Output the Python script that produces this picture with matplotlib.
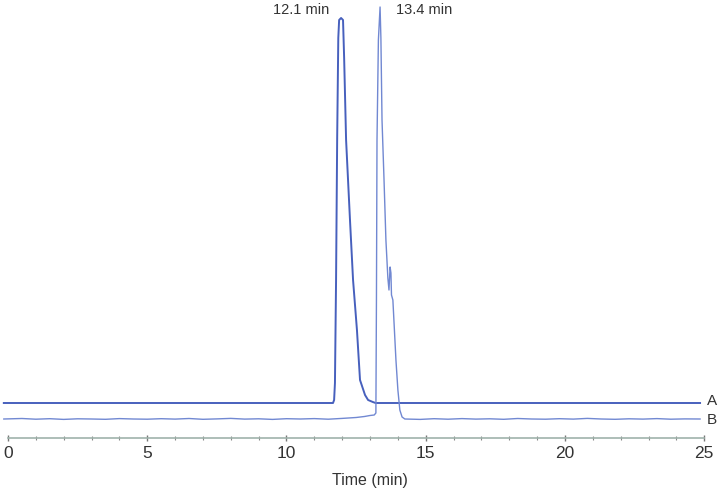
import numpy as np
import matplotlib
matplotlib.use('Agg')
import matplotlib.pyplot as plt

plt.rcParams['font.family'] = ['Liberation Sans', 'DejaVu Sans']

# === Data (signal in arbitrary units above the axis) ===
time_a = [-0.15, 11.67, 11.71, 11.74, 11.78, 11.82, 11.86, 11.89, 11.96, 12.03,
          12.07, 12.14, 12.28, 12.39, 12.53, 12.64, 12.82, 12.93, 13.10, 13.20, 24.85]
sig_a = [35, 35, 38, 55, 158, 300, 400, 418, 420, 418,
         380, 298, 218, 158, 108, 58, 43, 38, 36, 35, 35]

time_b = [-0.15, 0.5, 1.0, 1.5, 2.0, 2.5, 3.0, 3.5, 4.0, 4.5, 5.0, 5.5, 6.0, 6.5,
          7.0, 7.5, 8.0, 8.5, 9.0, 9.5, 10.0, 10.5, 11.0, 11.5, 12.0, 12.5, 12.8,
          13.0, 13.15, 13.21, 13.23, 13.25, 13.30, 13.36, 13.39, 13.43, 13.50,
          13.57, 13.64, 13.68, 13.72, 13.75, 13.77, 13.82, 13.93, 14.00, 14.07,
          14.15, 14.25, 14.8, 15.3, 15.8, 16.3, 16.8, 17.3, 17.8, 18.3, 18.8,
          19.3, 19.8, 20.3, 20.8, 21.3, 21.8, 22.3, 22.8, 23.3, 23.8, 24.3, 24.85]
sig_b = [19, 19.5, 18.8, 19.3, 18.6, 19.2, 19.0, 18.7, 19.4, 19.0, 18.8, 19.3,
         18.9, 19.5, 18.7, 19.1, 19.6, 18.9, 19.2, 18.6, 19.3, 19.0, 19.4, 18.8,
         19.6, 20.5, 21.5, 22.5, 23, 25, 138, 298, 398, 431, 400, 318, 260,
         198, 160, 148, 171, 165, 143, 138, 78, 48, 28,
         21, 19, 18.6, 19.3, 18.8, 19.4, 18.9, 19.2, 18.7, 19.5, 19.0,
         18.8, 19.3, 18.9, 19.6, 19.0, 18.7, 19.2, 18.9, 19.4, 18.8, 19.1, 19.0]

peak_labels = ['12.1 min', '13.4 min']
peak_label_t = [10.52, 14.94]
trace_names = ['A', 'B']
major_ticks = [0, 5, 10, 15, 20, 25]
minor_ticks = list(range(0, 26))

# === Plot ===
fig = plt.figure(figsize=(7.2, 4.91), dpi=100)
ax = fig.add_axes([0, 0, 1, 1])
ax.set_xlim(-0.287, 25.566)
ax.set_ylim(-53, 438)

ax.plot(time_a, sig_a, color='#4760bd', lw=1.4, solid_joinstyle='round')
ax.plot(time_b, sig_b, color='#7188d2', lw=1.0, solid_joinstyle='round')

for lab, t in zip(peak_labels, peak_label_t):
    ax.text(t, 428, lab, ha='center', va='center', fontsize=10.5, color='#333333')

ax.text(25.1, sig_a[-1] + 2, trace_names[0], ha='left', va='center', fontsize=11, color='#333333')
ax.text(25.1, sig_b[-1] - 1, trace_names[1], ha='left', va='center', fontsize=11, color='#333333')

ax.text(13.0, -42, 'Time (min)', ha='center', va='center', fontsize=11.5, color='#333333')

# axis
for s in ['top', 'right', 'left']:
    ax.spines[s].set_visible(False)
ax.spines['bottom'].set_position(('data', 0))
ax.spines['bottom'].set_bounds(0, 25)
ax.spines['bottom'].set_color('#9fb3ab')
ax.spines['bottom'].set_linewidth(1.2)
ax.set_yticks([])
ax.set_xticks(major_ticks)
ax.set_xticks(minor_ticks, minor=True)
ax.tick_params(axis='x', which='major', direction='inout', length=4, width=1,
               color='#777777', labelsize=12.5, labelcolor='#333333', pad=4)
ax.tick_params(axis='x', which='minor', direction='inout', length=3, width=0.8,
               color='#888888')
ax.patch.set_visible(False)

plt.savefig('out.png', dpi=100)
